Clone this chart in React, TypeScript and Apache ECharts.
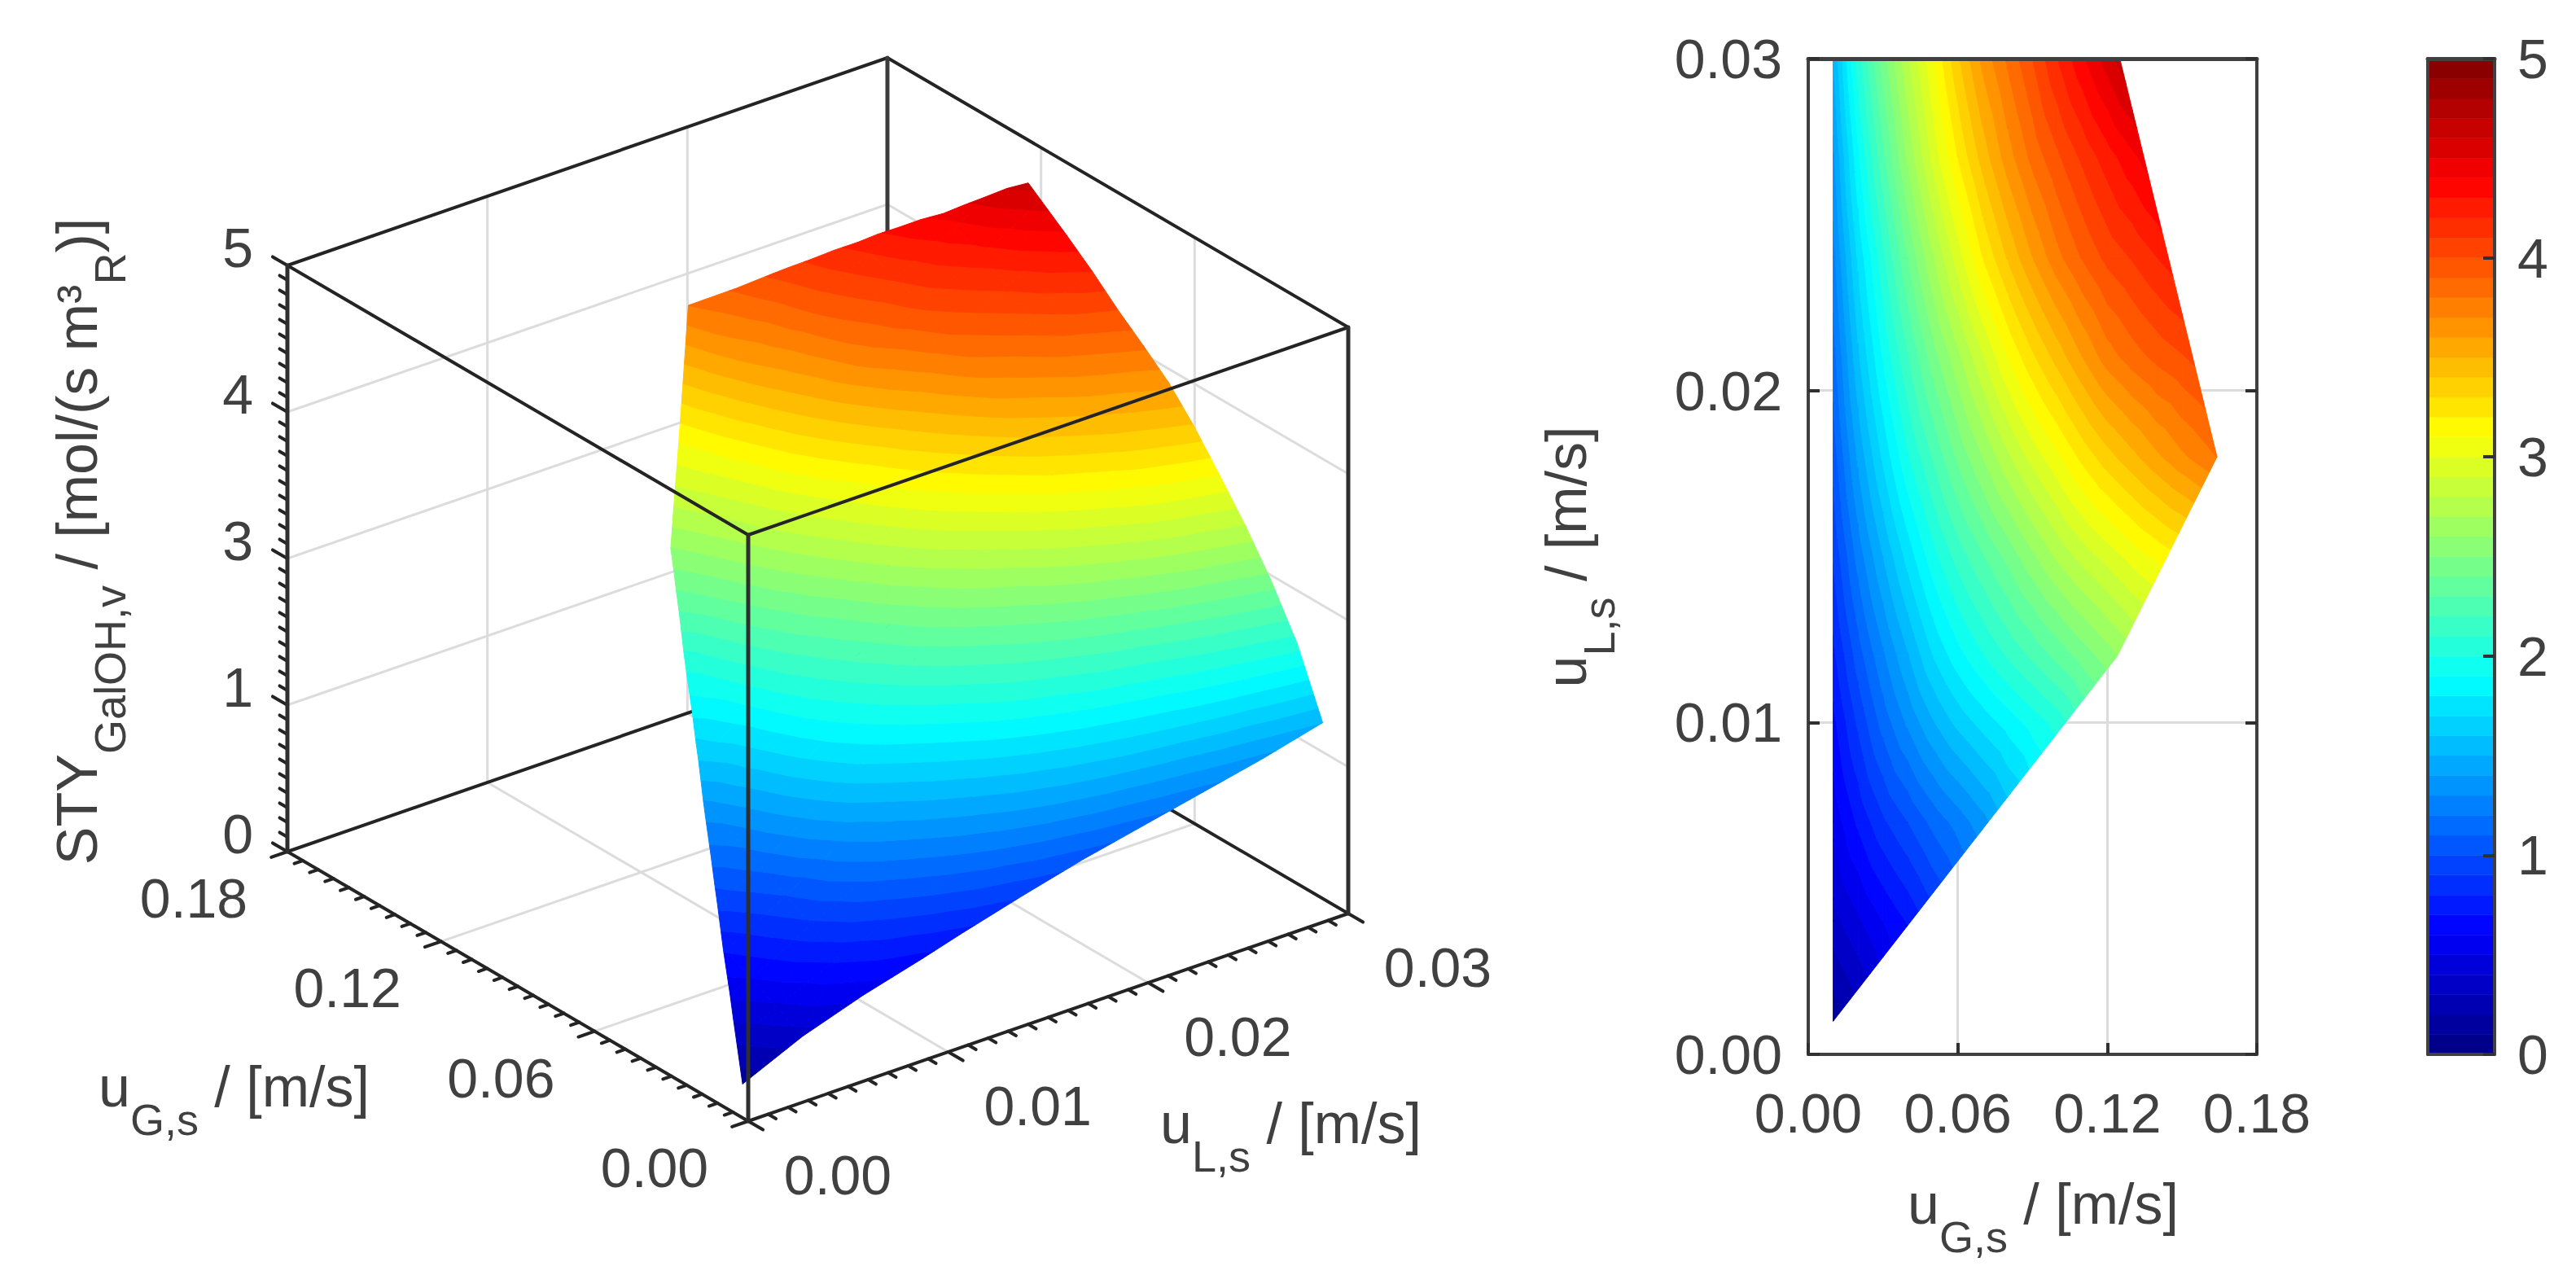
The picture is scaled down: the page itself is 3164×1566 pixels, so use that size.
import React, { useEffect, useRef } from "react";
import * as echarts from "echarts";

const W = 3164;
const H = 1566;
const FONT = "'Liberation Sans', Arial, sans-serif";
const TEXT = "#404040";
const INK = "#242424";
const GRID = "#dcdcdc";

// Tick labels
const gTicks = [0, 0.06, 0.12, 0.18];
const lTicks = [0, 0.01, 0.02, 0.03];
const zTickLabels = ["0", "1", "3", "4", "5"];

// Read-off surface samples
const uG = [0.01, 0.02, 0.03, 0.04, 0.05, 0.06, 0.07, 0.08, 0.09, 0.1, 0.11, 0.12, 0.13, 0.14, 0.15, 0.165];
const uL = [0.001, 0.004, 0.007, 0.01, 0.012, 0.015, 0.018, 0.021, 0.024, 0.027, 0.03];
const sty0010 = [0.13, 0.25, 0.4, 0.52, 0.65, 0.8, 0.95, 1.1, 1.25, 1.4, 1.55, 1.7, 1.8, 1.9, 2.0, 2.1];
const sty0040 = [0.36, 0.48, 0.6, 0.71, 0.85, 1.0, 1.15, 1.3, 1.45, 1.6, 1.75, 1.9, 2.0, 2.1, 2.2, 2.3];
const sty0070 = [0.53, 0.72, 0.88, 1.0, 1.13, 1.24, 1.36, 1.52, 1.68, 1.84, 2.0, 2.15, 2.25, 2.35, 2.45, 2.55];
const sty0100 = [0.67, 0.92, 1.14, 1.32, 1.49, 1.63, 1.74, 1.84, 1.94, 2.04, 2.2, 2.35, 2.48, 2.56, 2.64, 2.75];
const sty0120 = [0.77, 1.05, 1.28, 1.49, 1.7, 1.86, 1.99, 2.11, 2.22, 2.33, 2.44, 2.55, 2.66, 2.74, 2.82, 2.92];
const sty0150 = [0.91, 1.24, 1.5, 1.74, 1.96, 2.14, 2.29, 2.43, 2.58, 2.72, 2.84, 2.94, 3.04, 3.125, 3.2, 3.3];
const sty0180 = [1.04, 1.42, 1.72, 1.99, 2.21, 2.42, 2.6, 2.78, 2.94, 3.08, 3.23, 3.36, 3.47, 3.58, 3.68, 3.81];
const sty0210 = [1.15, 1.58, 1.91, 2.19, 2.45, 2.67, 2.89, 3.1, 3.28, 3.44, 3.6, 3.75, 3.85, 3.93, 3.99, 4.1];
const sty0240 = [1.26, 1.72, 2.07, 2.4, 2.69, 2.95, 3.2, 3.41, 3.6, 3.77, 3.91, 4.03, 4.11, 4.2, 4.28, 4.4];
const sty0270 = [1.37, 1.88, 2.27, 2.62, 2.93, 3.2, 3.44, 3.65, 3.83, 3.98, 4.12, 4.25, 4.37, 4.49, 4.6, 4.8];
const sty0300 = [1.5, 2.05, 2.45, 2.79, 3.09, 3.38, 3.63, 3.82, 4.0, 4.2, 4.38, 4.55, 4.72, 4.85, 5.0, 5.2];
const styRows = [sty0010, sty0040, sty0070, sty0100, sty0120, sty0150, sty0180, sty0210, sty0240, sty0270, sty0300];

// Operating window (uG, uL), counter-clockwise
const windowG = [0.01, 0.124, 0.164, 0.125, 0.01];
const windowL = [0.001, 0.012, 0.018, 0.03, 0.03];

const LEVELS = 50;
const Z_MAX = 5;

function jet(t: number) {
  const c = (x: number) => Math.round(255 * Math.max(0, Math.min(1, x)));
  const r = c(Math.min(4 * t - 1.5, -4 * t + 4.5));
  const g = c(Math.min(4 * t - 0.5, -4 * t + 3.5));
  const b = c(Math.min(4 * t + 0.5, -4 * t + 2.5));
  return `rgb(${r},${g},${b})`;
}
const levelColor = (k: number) => jet((k + 0.5) / LEVELS);

type V = [number, number, number];

function clip(poly: V[], f: (p: V) => number): V[] {
  const out: V[] = [];
  for (let i = 0; i < poly.length; i++) {
    const a = poly[i];
    const b = poly[(i + 1) % poly.length];
    const fa = f(a);
    const fb = f(b);
    if (fa >= 0) out.push(a);
    if ((fa > 0 && fb < 0) || (fa < 0 && fb > 0)) {
      const t = fa / (fa - fb);
      out.push([a[0] + t * (b[0] - a[0]), a[1] + t * (b[1] - a[1]), a[2] + t * (b[2] - a[2])]);
    }
  }
  return out;
}

function buildBands() {
  const pieces: { pts: V[]; k: number }[] = [];
  const tris: V[][] = [];
  for (let j = uL.length - 2; j >= 0; j--) {
    for (let i = uG.length - 2; i >= 0; i--) {
      const a: V = [uG[i], uL[j], styRows[j][i]];
      const b: V = [uG[i + 1], uL[j], styRows[j][i + 1]];
      const c: V = [uG[i + 1], uL[j + 1], styRows[j + 1][i + 1]];
      const d: V = [uG[i], uL[j + 1], styRows[j + 1][i]];
      tris.push([a, b, c], [a, c, d]);
    }
  }
  for (const tri of tris) {
    let poly = tri;
    for (let e = 0; e < windowG.length && poly.length; e++) {
      const n = (e + 1) % windowG.length;
      const ax = windowG[e];
      const ay = windowL[e];
      const bx = windowG[n];
      const by = windowL[n];
      poly = clip(poly, (p) => (bx - ax) * (p[1] - ay) - (by - ay) * (p[0] - ax));
    }
    if (poly.length < 3) continue;
    for (let k = 0; k < LEVELS; k++) {
      const lo = (k * Z_MAX) / LEVELS;
      const hi = ((k + 1) * Z_MAX) / LEVELS;
      let q = clip(poly, (p) => p[2] - lo);
      if (q.length >= 3) q = clip(q, (p) => hi - p[2]);
      if (q.length >= 3) pieces.push({ pts: q, k });
    }
  }
  return pieces;
}
const bands = buildBands();

// Oblique (orthographic) view of the 3-D box on the page
const ORIGIN = [919, 1377];
const G_VEC = [-566, -331];
const L_VEC = [737, -255];
const Z_VEC = [0, -720];
const G_MAX = 0.18;
const L_MAX = 0.03;
function project(g: number, l: number, z: number): [number, number] {
  const a = g / G_MAX;
  const b = l / L_MAX;
  const c = z / Z_MAX;
  return [
    ORIGIN[0] + a * G_VEC[0] + b * L_VEC[0] + c * Z_VEC[0],
    ORIGIN[1] + a * G_VEC[1] + b * L_VEC[1] + c * Z_VEC[1],
  ];
}
const unit = (v: number[]) => {
  const n = Math.hypot(v[0], v[1]);
  return [v[0] / n, v[1] / n];
};

type Seg = [number, number, number, number];
const seg = (a: [number, number], b: [number, number]): Seg => [a[0], a[1], b[0], b[1]];

const zFracs = zTickLabels.map((_, i) => (i / (zTickLabels.length - 1)) * Z_MAX);

const gridSegs: Seg[] = [];
for (const z of zFracs.slice(1, -1)) {
  gridSegs.push(seg(project(G_MAX, 0, z), project(G_MAX, L_MAX, z)));
  gridSegs.push(seg(project(G_MAX, L_MAX, z), project(0, L_MAX, z)));
}
for (const g of gTicks.slice(1, -1)) {
  gridSegs.push(seg(project(g, 0, 0), project(g, L_MAX, 0)));
  gridSegs.push(seg(project(g, L_MAX, 0), project(g, L_MAX, Z_MAX)));
}
for (const l of lTicks.slice(1, -1)) {
  gridSegs.push(seg(project(0, l, 0), project(G_MAX, l, 0)));
  gridSegs.push(seg(project(G_MAX, l, 0), project(G_MAX, l, Z_MAX)));
}

const backSegs: Seg[] = [
  seg(project(G_MAX, 0, 0), project(G_MAX, L_MAX, 0)),
  seg(project(G_MAX, L_MAX, 0), project(0, L_MAX, 0)),
  seg(project(G_MAX, 0, Z_MAX), project(G_MAX, L_MAX, Z_MAX)),
  seg(project(G_MAX, L_MAX, Z_MAX), project(0, L_MAX, Z_MAX)),
];
const backVertical: Seg[] = [seg(project(G_MAX, L_MAX, 0), project(G_MAX, L_MAX, Z_MAX))];

const frontVertical: Seg[] = [
  seg(project(G_MAX, 0, 0), project(G_MAX, 0, Z_MAX)),
  seg(project(0, 0, 0), project(0, 0, Z_MAX)),
  seg(project(0, L_MAX, 0), project(0, L_MAX, Z_MAX)),
];
const frontSegs: Seg[] = [
  seg(project(G_MAX, 0, Z_MAX), project(0, 0, Z_MAX)),
  seg(project(0, 0, Z_MAX), project(0, L_MAX, Z_MAX)),
  seg(project(0, 0, 0), project(G_MAX, 0, 0)),
  seg(project(0, 0, 0), project(0, L_MAX, 0)),
];

const MAJOR = 21;
const MINOR = 11;
function addTicks(
  from: (f: number) => [number, number],
  dir: number[],
  majors: number,
  minorsPer: number,
) {
  const d = unit(dir);
  const n = majors * minorsPer;
  for (let i = 0; i <= n; i++) {
    const p = from(i / n);
    const len = i % minorsPer === 0 ? MAJOR : MINOR;
    frontSegs.push(seg(p, [p[0] + d[0] * len, p[1] + d[1] * len]));
  }
}
addTicks((f) => project(0, f * L_MAX, 0), G_VEC.map((v) => -v), 3, 10);
addTicks((f) => project(f * G_MAX, 0, 0), L_VEC.map((v) => -v), 3, 10);
addTicks((f) => project(G_MAX, 0, f * Z_MAX), G_VEC, 4, 10);

const richBase = (baselineGap: number) => ({
  a: { fontSize: 70, fontFamily: FONT, fill: TEXT, verticalAlign: "top" },
  s: { fontSize: 54, fontFamily: FONT, fill: TEXT, verticalAlign: "bottom", lineHeight: baselineGap },
});

function tickText(text: string, p: [number, number], dx: number, dy: number, align = "center") {
  return {
    type: "text",
    x: p[0] + dx,
    y: p[1] + dy,
    silent: true,
    style: { text, fontSize: 68, fontFamily: FONT, fill: TEXT, align, verticalAlign: "middle" },
  };
}

function title(text: string, x: number, y: number, rotation = 0, align = "left") {
  return {
    type: "text",
    x,
    y,
    rotation,
    silent: true,
    style: { text, rich: richBase(102), align, verticalAlign: "top", fontSize: 70, fontFamily: FONT, fill: TEXT },
  };
}

const graphicElements: any[] = [
  ...gTicks.map((g) => tickText(g.toFixed(2), project(g, 0, 0), -115, 57)),
  ...lTicks.map((l) => tickText(l.toFixed(2), project(0, l, 0), 110, 66)),
  ...zTickLabels.map((t, i) => tickText(t, project(G_MAX, 0, zFracs[i]), -42, -22, "right")),
  title("{a|u}{s|G,s}{a| / [m/s]}", 121, 1300),
  title("{a|u}{s|L,s}{a| / [m/s]}", 1425, 1345),
  title("{a|u}{s|G,s}{a| / [m/s]}", 2343, 1444),
  title("{a|u}{s|L,s}{a| / [m/s]}", 1889, 684, Math.PI / 2, "center"),
  title("{a|STY}{s|GalOH,v}{a| / [mol/(s m³}{s|R}{a|)]}", 60, 665, Math.PI / 2, "center"),
];

const lineSeries = (segs: Seg[], color: string, width: number, z: number) => ({
  type: "custom",
  coordinateSystem: "cartesian2d",
  xAxisIndex: 0,
  yAxisIndex: 0,
  silent: true,
  clip: false,
  z,
  data: segs,
  renderItem: (_: any, api: any) => {
    const a = api.coord([api.value(0), api.value(1)]);
    const b = api.coord([api.value(2), api.value(3)]);
    return {
      type: "line",
      shape: { x1: a[0], y1: a[1], x2: b[0], y2: b[1] },
      style: { stroke: color, lineWidth: width, lineCap: "round" },
    };
  },
});

const AXIS_LINE = { show: true, onZero: false, lineStyle: { color: "#404040", width: 4 } };
const AXIS_TOP = { show: true, onZero: false, lineStyle: { color: "#404040", width: 5 } };
const LABEL = { fontSize: 68, fontFamily: FONT, color: TEXT };
const TICK = { show: true, inside: true, length: 14, lineStyle: { color: "#303030", width: 4 } };

const G2 = 1; // panel grid
const G3 = 2; // colour-bar grid

const xAxes: any[] = [
  { gridIndex: 0, type: "value", min: 0, max: W, show: false },
  {
    gridIndex: G2, type: "value", min: 0, max: G_MAX, interval: 0.06, z: 0,
    axisLine: { show: false }, axisTick: { show: false }, axisLabel: { show: false },
    splitLine: { show: true, lineStyle: { color: GRID, width: 3 } },
  },
  {
    gridIndex: G2, type: "value", min: 0, max: G_MAX, interval: 0.06, z: 5, position: "bottom",
    axisLine: AXIS_LINE, axisTick: TICK, splitLine: { show: false },
    axisLabel: { ...LABEL, margin: 38, formatter: (v: number) => v.toFixed(2) },
  },
  {
    gridIndex: G2, type: "value", min: 0, max: G_MAX, interval: 0.06, z: 5, position: "top",
    axisLine: AXIS_TOP, axisTick: { show: false }, axisLabel: { show: false }, splitLine: { show: false },
  },
  {
    gridIndex: G3, type: "value", min: 0, max: 1, position: "bottom", z: 5,
    axisLine: AXIS_LINE, axisTick: { show: false }, axisLabel: { show: false }, splitLine: { show: false },
  },
  {
    gridIndex: G3, type: "value", min: 0, max: 1, position: "top", z: 5,
    axisLine: AXIS_TOP, axisTick: { show: false }, axisLabel: { show: false }, splitLine: { show: false },
  },
];

const yAxes: any[] = [
  { gridIndex: 0, type: "value", min: 0, max: H, inverse: true, show: false },
  {
    gridIndex: G2, type: "value", min: 0, max: L_MAX, interval: 0.01, z: 0,
    axisLine: { show: false }, axisTick: { show: false }, axisLabel: { show: false },
    splitLine: { show: true, lineStyle: { color: GRID, width: 3 } },
  },
  {
    gridIndex: G2, type: "value", min: 0, max: L_MAX, interval: 0.01, z: 5, position: "left",
    axisLine: AXIS_LINE, axisTick: TICK, splitLine: { show: false },
    axisLabel: { ...LABEL, margin: 32, formatter: (v: number) => v.toFixed(2) },
  },
  {
    gridIndex: G2, type: "value", min: 0, max: L_MAX, interval: 0.01, z: 5, position: "right",
    axisLine: AXIS_LINE, axisTick: TICK, axisLabel: { show: false }, splitLine: { show: false },
  },
  {
    gridIndex: G3, type: "value", min: 0, max: Z_MAX, interval: 1, z: 5, position: "right",
    axisLine: AXIS_LINE, axisTick: TICK, splitLine: { show: false },
    axisLabel: { ...LABEL, margin: 28 },
  },
  {
    gridIndex: G3, type: "value", min: 0, max: Z_MAX, interval: 1, z: 5, position: "left",
    axisLine: AXIS_LINE, axisTick: { show: false }, axisLabel: { show: false }, splitLine: { show: false },
  },
];

const levelData = Array.from({ length: LEVELS }, (_, k) => [k]);

const option: any = {
  animation: false,
  backgroundColor: "#ffffff",
  tooltip: { show: false },
  grid: [
    { left: 0, top: 0, width: W, height: H },
    { left: 2221, top: 72, width: 551, height: 1223 },
    { left: 2982, top: 72, width: 82, height: 1223 },
  ],
  xAxis: xAxes,
  yAxis: yAxes,
  graphic: { elements: graphicElements },
  series: [
    lineSeries(gridSegs, GRID, 3, 1),
    lineSeries(backSegs, INK, 4, 1.5),
    lineSeries(backVertical, "#3a3a3a", 5, 1.5),
    {
      type: "custom",
      coordinateSystem: "cartesian2d",
      xAxisIndex: 0,
      yAxisIndex: 0,
      silent: true,
      clip: false,
      z: 2,
      data: bands.map((_, i) => [i]),
      renderItem: (params: any, api: any) => {
        const b = bands[params.dataIndex];
        const color = levelColor(b.k);
        return {
          type: "polygon",
          shape: { points: b.pts.map((p) => api.coord(project(p[0], p[1], p[2]))) },
          style: { fill: color, stroke: color, lineWidth: 1 },
        };
      },
    },
    lineSeries(frontSegs, INK, 4, 3),
    lineSeries(frontVertical, "#2e2e2e", 5, 3),
    {
      type: "custom",
      coordinateSystem: "cartesian2d",
      xAxisIndex: 1,
      yAxisIndex: 1,
      silent: true,
      clip: false,
      z: 2,
      data: bands.map((_, i) => [i]),
      renderItem: (params: any, api: any) => {
        const b = bands[params.dataIndex];
        const color = levelColor(b.k);
        return {
          type: "polygon",
          shape: { points: b.pts.map((p) => api.coord([p[0], p[1]])) },
          style: { fill: color, stroke: color, lineWidth: 1 },
        };
      },
    },
    {
      type: "custom",
      coordinateSystem: "cartesian2d",
      xAxisIndex: 4,
      yAxisIndex: 4,
      silent: true,
      clip: false,
      z: 2,
      data: levelData,
      renderItem: (_: any, api: any) => {
        const k = api.value(0);
        const a = api.coord([0, ((k + 1) * Z_MAX) / LEVELS]);
        const b = api.coord([1, (k * Z_MAX) / LEVELS]);
        const color = levelColor(k);
        return {
          type: "rect",
          shape: { x: a[0], y: a[1], width: b[0] - a[0], height: b[1] - a[1] },
          style: { fill: color, stroke: color, lineWidth: 0.6 },
        };
      },
    },
  ],
};

export default function App() {
  const ref = useRef<HTMLDivElement>(null);
  useEffect(() => {
    const chart = echarts.init(ref.current as HTMLDivElement, undefined, { renderer: "svg" });
    chart.setOption(option);
    return () => chart.dispose();
  }, []);
  return <div ref={ref} style={{ position: "absolute", left: 0, top: 0, width: W, height: H }} />;
}
